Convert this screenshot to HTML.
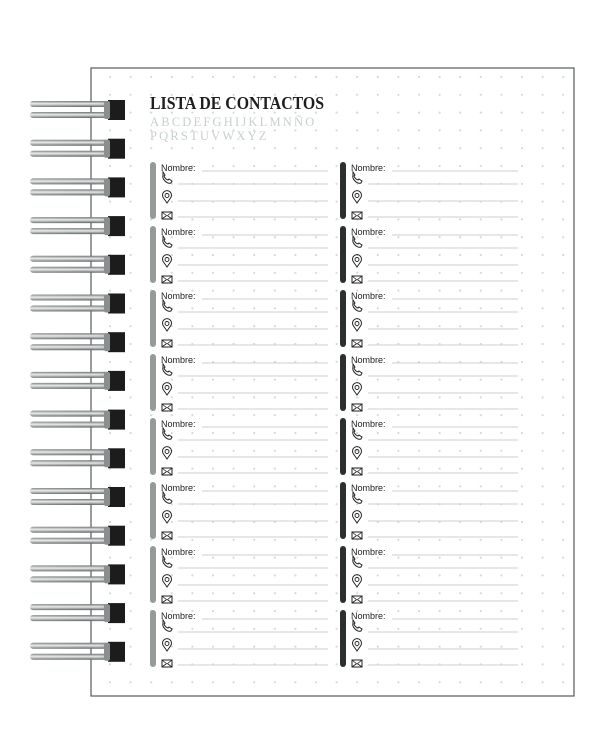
<!DOCTYPE html>
<html><head><meta charset="utf-8"><style>
html,body{margin:0;padding:0;background:#fff;width:607px;height:752px;overflow:hidden}
svg{display:block}
</style></head><body>
<svg id="s" width="607" height="752" xmlns="http://www.w3.org/2000/svg">
<defs>
<linearGradient id="ring" x1="0" y1="0" x2="0" y2="1">
<stop offset="0" stop-color="#6a6e6e"/><stop offset="0.45" stop-color="#e8eaea"/><stop offset="1" stop-color="#5a5e5e"/>
</linearGradient>
<linearGradient id="ringh" x1="0" y1="0" x2="1" y2="0">
<stop offset="0" stop-color="#fff" stop-opacity="0.2"/><stop offset="0.7" stop-color="#fff" stop-opacity="0"/><stop offset="1" stop-color="#222" stop-opacity="0.4"/>
</linearGradient>
</defs>
<rect x="91" y="68" width="483" height="628" fill="#fff" stroke="#555a5a" stroke-width="1.2"/>
<g id="dots" fill="#d2dcd8"></g>
<text x="150" y="109" font-family="Liberation Serif, serif" font-weight="bold" font-size="18" fill="#1e1e1e" textLength="174" lengthAdjust="spacingAndGlyphs">LISTA DE CONTACTOS</text>
<text x="150" y="126" font-family="Liberation Serif, serif" font-size="12.5" fill="#c6d0cc" letter-spacing="2.2">ABCDEFGHIJKLMNÑO</text>
<text x="150" y="140" font-family="Liberation Serif, serif" font-size="12.5" fill="#c6d0cc" letter-spacing="2.2">PQRSTUVWXYZ</text>
<g id="blocks"></g>
<g id="rings"></g>
</svg>
<script>
var NS="http://www.w3.org/2000/svg";
function el(p,t,a,txt){var e=document.createElementNS(NS,t);for(var k in a)e.setAttribute(k,a[k]);if(txt)e.textContent=txt;p.appendChild(e);return e;}
var d=document.getElementById('dots');
for(var y=77;y<692;y+=17.8)for(var x=110;x<572;x+=20.6)el(d,'circle',{cx:x,cy:y,r:1.1});
var b=document.getElementById('blocks');
for(var c=0;c<2;c++){var bx=c?340:150,col=c?'#2b2f2f':'#959c98';
for(var i=0;i<8;i++){var y0=162+i*64;
el(b,'rect',{x:bx,y:y0,width:6,height:57,rx:3,fill:col});
el(b,'text',{x:bx+11,y:y0+9,'font-family':'Liberation Sans, sans-serif','font-size':'9','fill':'#222'},'Nombre:');
var lx=bx+28,rx=bx+178;
[[bx+52,9],[lx,22],[lx,39],[lx,55]].forEach(function(l){el(b,'line',{x1:l[0],x2:rx,y1:y0+l[1],y2:y0+l[1],stroke:'#c9d3cf','stroke-width':1});});
var ix=bx+12;
el(b,'path',{d:'M'+(ix+1)+' '+(y0+13)+' q-1 3 2 6 q3 3 6 2 l1-2 -3-2 -1 1 q-3-1 -4-4 l1-1 -2-3z',fill:'none',stroke:'#222','stroke-width':1});
el(b,'path',{d:'M'+(ix+5)+' '+(y0+41)+' l-3.5-5 a4.5 4.5 0 1 1 7 0z',fill:'none',stroke:'#222','stroke-width':1});
el(b,'circle',{cx:ix+5,cy:y0+33.5,r:2,fill:'none',stroke:'#222','stroke-width':0.9});
el(b,'rect',{x:ix,y:y0+50,width:10,height:7,fill:'none',stroke:'#222','stroke-width':1});
el(b,'path',{d:'M'+ix+' '+(y0+50)+' l5 4 5-4 M'+ix+' '+(y0+57)+' l4-3 M'+(ix+10)+' '+(y0+57)+' l-4-3',fill:'none',stroke:'#222','stroke-width':0.8});
}}
var r=document.getElementById('rings');
for(var i=0;i<15;i++){var cy=110+i*38.7;
[-6,5].forEach(function(o){el(r,'rect',{x:30,y:cy+o-3,width:88,height:6,rx:3,fill:'url(#ring)'});el(r,'rect',{x:30,y:cy+o-3,width:88,height:6,rx:3,fill:'url(#ringh)'});});
el(r,'rect',{x:108,y:cy-10,width:17,height:20,fill:'#1c1c1c'});
el(r,'rect',{x:104,y:cy-9,width:6,height:18,fill:'#8a8e8e',rx:2});
}
</script>
</body></html>
